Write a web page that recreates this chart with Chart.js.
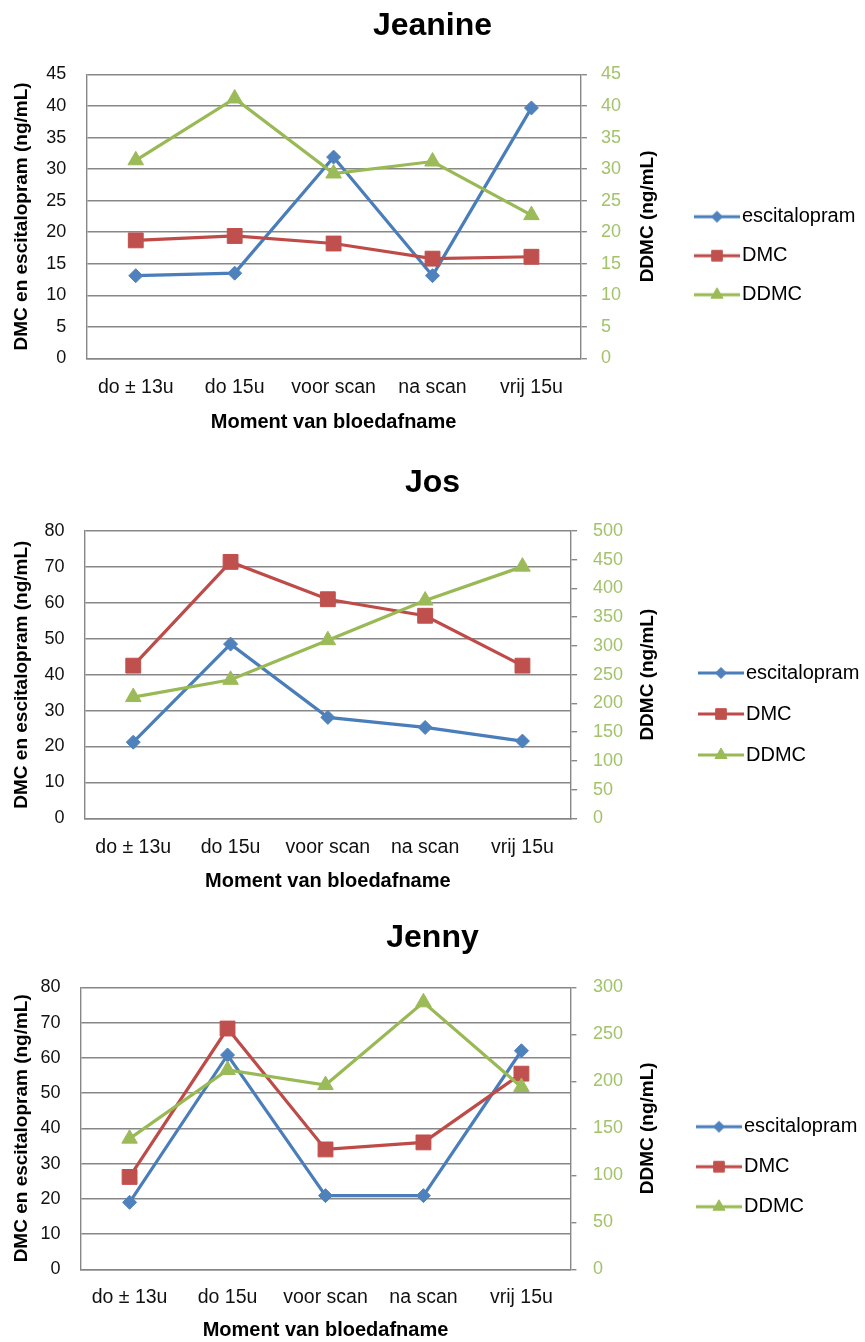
<!DOCTYPE html>
<html>
<head>
<meta charset="utf-8">
<script src="https://cdn.jsdelivr.net/npm/chart.js@4.4.1/dist/chart.umd.min.js"></script>
<style>
html, body { margin: 0; padding: 0; background: #ffffff; overflow: hidden; }
body { width: 865px; height: 1342px; position: relative; }
.wrap { position: absolute; left: 0; width: 865px; }
canvas { display: block; }
</style>
</head>
<body>
<div class="wrap" style="top:0px;height:440px"><canvas id="c1" width="865" height="440"></canvas></div>
<div class="wrap" style="top:440px;height:460px"><canvas id="c2" width="865" height="460"></canvas></div>
<div class="wrap" style="top:900px;height:448px"><canvas id="c3" width="865" height="448"></canvas></div>
<script>
// ---------- data ----------
const categories = ['do ± 13u', 'do 15u', 'voor scan', 'na scan', 'vrij 15u'];
const seriesNames = ['escitalopram', 'DMC', 'DDMC'];
const chartTitles = ['Jeanine', 'Jos', 'Jenny'];
const xAxisTitle = 'Moment van bloedafname';
const leftAxisTitle = 'DMC en escitalopram (ng/mL)';
const rightAxisTitle = 'DDMC (ng/mL)';

const jeanineEscitalopram = [13.1, 13.5, 31.9, 13.1, 39.7];
const jeanineDMC = [18.7, 19.4, 18.2, 15.8, 16.1];
const jeanineDDMC = [31.4, 41.2, 29.3, 31.2, 22.7];

const josEscitalopram = [21.2, 48.5, 28.1, 25.3, 21.5];
const josDMC = [42.5, 71.4, 61.0, 56.4, 42.5];
const josDDMC = [211, 241, 310, 379, 438];

const jennyEscitalopram = [19.0, 60.8, 20.9, 20.9, 62.0];
const jennyDMC = [26.2, 68.3, 34.0, 36.0, 55.5];
const jennyDDMC = [139, 212, 196, 284, 194];

// axis ranges: [min, max, step]
const jeanineLeftAxis = [0, 45, 5];
const jeanineRightAxis = [0, 45, 5];
const josLeftAxis = [0, 80, 10];
const josRightAxis = [0, 500, 50];
const jennyLeftAxis = [0, 80, 10];
const jennyRightAxis = [0, 300, 50];

// ---------- styling ----------
const FONT = '"Liberation Sans", Arial, sans-serif';
const GRID = '#878787';
const lineColors = ['#4A7EBB', '#BE4B48', '#98B954'];
const markColors = ['#4F81BD', '#C0504D', '#9BBB59'];
const pointStyles = ['rectRot', 'rect', 'triangle'];
const pointRadii = [7, 10.5, 9];
const legendRadii = [5.5, 7.5, 7];

function legendIcon(i) {
  const c = document.createElement('canvas');
  c.width = 46; c.height = 16;
  const ctx = c.getContext('2d');
  ctx.strokeStyle = lineColors[i];
  ctx.lineWidth = 3;
  ctx.beginPath(); ctx.moveTo(0, 8); ctx.lineTo(46, 8); ctx.stroke();
  ctx.fillStyle = markColors[i];
  ctx.strokeStyle = markColors[i];
  ctx.lineWidth = 1;
  Chart.helpers.drawPoint(ctx, { pointStyle: pointStyles[i], radius: legendRadii[i], borderWidth: 1, rotation: 0 }, 23, 8);
  return c;
}
const legendIcons = [0, 1, 2].map(legendIcon);

const rightTitlePlugin = {
  id: 'rightTitle',
  afterDraw(chart, args, opts) {
    const s = chart.scales.y2;
    const ctx = chart.ctx;
    ctx.save();
    ctx.font = 'bold 19px ' + FONT;
    ctx.fillStyle = '#000';
    ctx.textAlign = 'center';
    ctx.textBaseline = 'middle';
    ctx.translate(opts.x, (s.top + s.bottom) / 2);
    ctx.rotate(-Math.PI / 2);
    ctx.fillText(opts.text, 0, 0);
    ctx.restore();
  }
};

// fixes the legend box width so its position is deterministic
const legendWidthPlugin = {
  id: 'legendWidth',
  beforeLayout(chart, args, opts) {
    const lg = chart.legend;
    if (lg && !lg._fixedWidth) {
      const f = lg.fit;
      lg.fit = function () { f.call(this); this.width = opts.width; };
      lg._fixedWidth = true;
    }
  }
};

function buildChart(id, title, esc, dmc, ddmc, leftAxis, rightAxis, L) {
  const values = [esc, dmc, ddmc];
  const datasets = values.map((v, i) => ({
    label: seriesNames[i],
    data: v,
    yAxisID: i === 2 ? 'y2' : 'y',
    borderColor: lineColors[i],
    backgroundColor: markColors[i],
    borderWidth: 3.2,
    tension: 0,
    pointStyle: pointStyles[i],
    pointRadius: pointRadii[i],
    pointHoverRadius: pointRadii[i],
    pointBackgroundColor: markColors[i],
    pointBorderColor: markColors[i],
    pointBorderWidth: 1,
    order: 3 - i
  }));
  return new Chart(document.getElementById(id), {
    type: 'line',
    data: { labels: categories, datasets: datasets },
    plugins: [rightTitlePlugin, legendWidthPlugin],
    options: {
      responsive: false,
      animation: false,
      events: [],
      layout: { padding: 0 },
      plugins: {
        tooltip: { enabled: false },
        rightTitle: { x: 648, text: rightAxisTitle },
        legendWidth: { width: L.legendW },
        title: {
          display: true, text: title, color: '#000',
          font: { family: FONT, size: 32, weight: 'bold' },
          padding: { top: L.titlePt, bottom: L.titlePb }
        },
        legend: {
          position: 'right', align: 'start',
          title: { display: true, text: '', font: { size: 10 }, padding: { top: L.legendTitleH - 12, bottom: 0 } },
          labels: {
            usePointStyle: true, pointStyleWidth: 30, padding: L.legendPad,
            color: '#000', font: { family: FONT, size: 20 },
            generateLabels: (chart) => chart.data.datasets.map((ds, i) => ({
              text: ds.label, pointStyle: legendIcons[i], datasetIndex: i,
              fillStyle: markColors[i], strokeStyle: lineColors[i], lineWidth: 0,
              hidden: false, fontColor: '#000'
            }))
          }
        }
      },
      scales: {
        x: {
          type: 'category',
          offset: true,
          grid: { display: false, drawTicks: false },
          border: { display: true, color: GRID, width: 1.4 },
          ticks: { color: '#111', font: { family: FONT, size: 19.5 }, padding: L.xTickPad, maxRotation: 0, autoSkip: false },
          title: { display: true, text: xAxisTitle, color: '#000', font: { family: FONT, size: 20, weight: 'bold' }, padding: { top: 0, bottom: L.xTitlePb } },
          afterFit: (s) => { s.height = L.xH; }
        },
        y: {
          position: 'left',
          min: leftAxis[0], max: leftAxis[1],
          grid: { color: GRID, lineWidth: 1.4, drawTicks: false },
          border: { display: true, color: GRID, width: 1.4 },
          ticks: { stepSize: leftAxis[2], color: '#111', font: { family: FONT, size: 18 }, padding: 20 },
          title: { display: true, text: leftAxisTitle, color: '#000', font: { family: FONT, size: 19, weight: 'bold' }, padding: { top: 10.6, bottom: 0 } },
          afterFit: (s) => { s.width = L.leftW; }
        },
        y2: {
          position: 'right',
          min: rightAxis[0], max: rightAxis[1],
          grid: { drawOnChartArea: false, drawTicks: true, tickLength: 6, color: GRID, lineWidth: 1.4 },
          border: { display: true, color: GRID, width: 1.4 },
          ticks: { stepSize: rightAxis[2], color: '#A2C36A', font: { family: FONT, size: 18 }, padding: L.y2Pad },
          afterFit: (s) => { s.width = L.rightW; }
        }
      }
    }
  });
}

buildChart('c1', chartTitles[0], jeanineEscitalopram, jeanineDMC, jeanineDDMC, jeanineLeftAxis, jeanineRightAxis,
  { legendW: 182, leftW: 86.3, rightW: 102.1, titlePt: 6.6, titlePb: 29.5, xH: 81.7, xTickPad: 18, xTitlePb: 6,
    legendPad: 19, legendTitleH: 187.7, y2Pad: 14 });
buildChart('c2', chartTitles[1], josEscitalopram, josDMC, josDDMC, josLeftAxis, josRightAxis,
  { legendW: 180, leftW: 84.6, rightW: 113.9, titlePt: 24.1, titlePb: 28.5, xH: 81.7, xTickPad: 18, xTitlePb: 6.3,
    legendPad: 21, legendTitleH: 202, y2Pad: 16 });
buildChart('c3', chartTitles[2], jennyEscitalopram, jennyDMC, jennyDDMC, jennyLeftAxis, jennyRightAxis,
  { legendW: 181, leftW: 80.6, rightW: 113.6, titlePt: 19.3, titlePb: 29.6, xH: 78.7, xTickPad: 17, xTitlePb: 6,
    legendPad: 20, legendTitleH: 196.7, y2Pad: 16.6 });
</script>
</body>
</html>
